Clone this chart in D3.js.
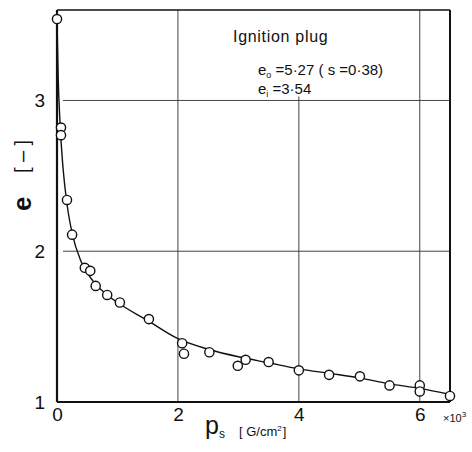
<!DOCTYPE html>
<html>
<head>
<meta charset="utf-8">
<script src="https://cdn.jsdelivr.net/npm/d3@7"></script>
<style>
  body { margin: 0; background: #fff; }
  text { font-family: "Liberation Sans", sans-serif; fill: #111; }
</style>
</head>
<body>
<script>
const svgWidth = 472
const svgHeight = 452

const margin = { top: 10, right: 22, bottom: 50, left: 57 }

const chartWidth = svgWidth - margin.left - margin.right
const chartHeight = svgHeight - margin.top - margin.bottom

// measured points (p_s in 10^3 G/cm2, e)
const pointsX = [0, 0.066, 0.066, 0.165, 0.25, 0.46, 0.55, 0.64, 0.83, 1.04, 1.52, 2.07, 2.10, 2.52, 2.99, 3.12, 3.50, 4.0, 4.5, 5.01, 5.5, 6.0, 6.0, 6.5]
const pointsY = [3.54, 2.82, 2.77, 2.34, 2.11, 1.89, 1.87, 1.77, 1.71, 1.66, 1.55, 1.39, 1.32, 1.33, 1.24, 1.28, 1.265, 1.21, 1.18, 1.17, 1.11, 1.11, 1.07, 1.04]

// fitted curve
const curveX = [0, 0.02, 0.05, 0.1, 0.17, 0.25, 0.4, 0.6, 0.8, 1.0, 1.5, 2.0, 2.5, 3.0, 3.5, 4.0, 4.5, 5.0, 5.5, 6.0, 6.5]
const curveY = [3.54, 3.15, 2.85, 2.55, 2.3, 2.12, 1.93, 1.8, 1.72, 1.66, 1.54, 1.42, 1.35, 1.30, 1.26, 1.22, 1.19, 1.16, 1.12, 1.09, 1.05]

const xTicks = [0, 2, 4, 6]
const yTicks = [1, 2, 3]
const xGrid = [2, 4, 6]
const yGrid = [2, 3]

const svg = d3.select("body").append("svg")
  .attr("width", svgWidth)
  .attr("height", svgHeight)

const chartG = svg.append("g")
  .attr("transform", `translate(${margin.left}, ${margin.top})`)

const x = d3.scaleLinear().domain([0, 6.5]).range([0, chartWidth])
const y = d3.scaleLinear().domain([1, 3.6]).range([chartHeight, 0])

// grid
chartG.selectAll(".vgrid")
  .data(xGrid)
  .enter()
  .append("line")
  .attr("x1", d => x(d))
  .attr("x2", d => x(d))
  .attr("y1", d => d === 4 ? y(3) - 4 : 0)
  .attr("y2", chartHeight)
  .attr("stroke", "#444")
  .attr("stroke-width", 1)

chartG.selectAll(".hgrid")
  .data(yGrid)
  .enter()
  .append("line")
  .attr("x1", 6)
  .attr("x2", chartWidth)
  .attr("y1", d => y(d))
  .attr("y2", d => y(d))
  .attr("stroke", "#444")
  .attr("stroke-width", 1)

// frame
chartG.append("line").attr("x1", 0).attr("x2", chartWidth).attr("y1", 0).attr("y2", 0)
  .attr("stroke", "#111").attr("stroke-width", 1.5)
chartG.append("line").attr("x1", chartWidth).attr("x2", chartWidth).attr("y1", 0).attr("y2", chartHeight)
  .attr("stroke", "#111").attr("stroke-width", 2)
chartG.append("line").attr("x1", 0).attr("x2", 0).attr("y1", 0).attr("y2", chartHeight)
  .attr("stroke", "#111").attr("stroke-width", 2.2)
chartG.append("line").attr("x1", 0).attr("x2", chartWidth).attr("y1", chartHeight).attr("y2", chartHeight)
  .attr("stroke", "#111").attr("stroke-width", 2.2)

// axes (labels only)
const xAxis = d3.axisBottom(x).tickValues(xTicks).tickFormat(d3.format("d")).tickSize(0).tickPadding(6)
const yAxis = d3.axisLeft(y).tickValues(yTicks).tickFormat(d3.format("d")).tickSize(0).tickPadding(12)

const xAxisG = chartG.append("g")
  .attr("transform", `translate(0, ${chartHeight})`)
  .call(xAxis)
const yAxisG = chartG.append("g").call(yAxis)

;[xAxisG, yAxisG].forEach(g => {
  g.select(".domain").remove()
  g.selectAll("text")
    .attr("font-size", 19)
    .attr("font-family", "Liberation Sans, sans-serif")
    .attr("fill", "#111")
})

// curve
const line = d3.line()
  .x(d => x(d[0]))
  .y(d => y(d[1]))
  .curve(d3.curveMonotoneX)

chartG.append("path")
  .datum(curveX.map((v, i) => [v, curveY[i]]))
  .attr("d", line)
  .attr("fill", "none")
  .attr("stroke", "#111")
  .attr("stroke-width", 1.4)

// points
chartG.selectAll("circle")
  .data(pointsX.map((v, i) => [v, pointsY[i]]))
  .enter()
  .append("circle")
  .attr("cx", d => x(d[0]))
  .attr("cy", d => y(d[1]))
  .attr("r", 4.6)
  .attr("fill", "#fff")
  .attr("stroke", "#111")
  .attr("stroke-width", 1.4)

// x10^3
const mult = svg.append("text")
  .attr("x", 443)
  .attr("y", 422)
  .attr("font-size", 11)
mult.append("tspan").text("×10")
mult.append("tspan").attr("dy", -5).attr("font-size", 8).text("3")

// axis titles
const xLabel = svg.append("text")
  .attr("x", 205)
  .attr("y", 434)
  .attr("font-size", 25)
xLabel.append("tspan").text("p")
xLabel.append("tspan").attr("dy", 4).attr("font-size", 12).text("s")

const unit = svg.append("text")
  .attr("x", 239)
  .attr("y", 436)
  .attr("font-size", 13)
unit.append("tspan").text("[ G/cm")
unit.append("tspan").attr("dy", -5).attr("font-size", 8).text("2")
unit.append("tspan").attr("dy", 5).attr("dx", 1).text("]")

svg.append("text")
  .attr("transform", "translate(31, 211) rotate(-90)")
  .attr("font-size", 26)
  .attr("font-weight", "bold")
  .text("e")

svg.append("text")
  .attr("transform", "translate(29, 173) rotate(-90)")
  .attr("font-size", 20)
  .attr("textLength", 33)
  .attr("lengthAdjust", "spacing")
  .text("[–]")

// annotation
svg.append("text").attr("x", 233).attr("y", 42).attr("font-size", 16)
  .attr("letter-spacing", 0.7).text("Ignition plug")

const a1 = svg.append("text").attr("x", 258).attr("y", 75).attr("font-size", 15)
a1.append("tspan").text("e")
a1.append("tspan").attr("dy", 3).attr("font-size", 9).text("o")
a1.append("tspan").attr("dy", -3).text(" =5·27 ( s =0·38)")

const a2 = svg.append("text").attr("x", 258).attr("y", 94).attr("font-size", 15)
a2.append("tspan").text("e")
a2.append("tspan").attr("dy", 3).attr("font-size", 9).text("i")
a2.append("tspan").attr("dy", -3).text(" =3·54")
</script>
</body>
</html>
